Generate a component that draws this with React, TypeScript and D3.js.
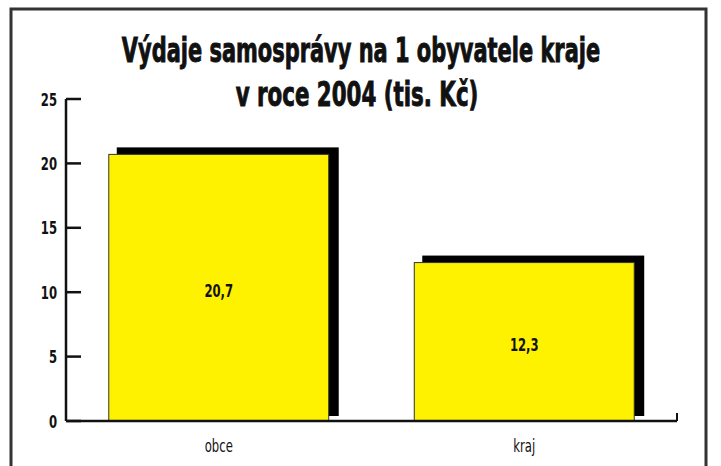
import { scaleBand, scaleLinear } from 'd3'

const WIDTH = 721
const HEIGHT = 466
const MARGIN = { top: 99, right: 44, bottom: 45, left: 66 }
const INNER_WIDTH = WIDTH - MARGIN.left - MARGIN.right
const INNER_HEIGHT = HEIGHT - MARGIN.top - MARGIN.bottom

const categories = ['obce', 'kraj']
const values = [20.7, 12.3]
const valueLabels = ['20,7', '12,3']
const titleLines = ['Výdaje samosprávy na 1 obyvatele kraje', 'v roce 2004 (tis. Kč)']

const FONT = '"DejaVu Sans Condensed", "DejaVu Sans", sans-serif'
const YELLOW = '#fff200'
const SQUEEZE = 0.72

// narrow text: the original uses a condensed face we don't have, so squeeze horizontally
function NarrowText({
  x,
  y,
  anchor = 'middle',
  size,
  bold = false,
  squeeze = SQUEEZE,
  heavy = 0,
  children,
}: {
  x: number
  y: number
  anchor?: 'start' | 'middle' | 'end'
  size: number
  bold?: boolean
  squeeze?: number
  heavy?: number
  children: string | number
}) {
  return (
    <text
      transform={`translate(${x}, ${y}) scale(${squeeze}, 1)`}
      textAnchor={anchor}
      fontSize={size}
      fontWeight={bold ? 'bold' : 'normal'}
      fill="#111"
      stroke={heavy ? '#111' : 'none'}
      strokeWidth={heavy}
    >
      {children}
    </text>
  )
}

export default function App() {
  const x = scaleBand<string>().domain(categories).range([0, INNER_WIDTH]).paddingInner(0.28).paddingOuter(0.14)
  const y = scaleLinear().domain([0, 25]).range([INNER_HEIGHT, 0])
  const ticks = y.ticks(5)

  return (
    <svg
      width={WIDTH}
      height={HEIGHT}
      viewBox={`0 0 ${WIDTH} ${HEIGHT}`}
      style={{ position: 'absolute', left: 0, top: 0, background: '#fff' }}
      fontFamily={FONT}
    >
      {/* outer frame, runs off the bottom */}
      <rect x={11} y={9} width={695} height={480} fill="none" stroke="#333" strokeWidth={3} />

      <NarrowText x={361} y={62} size={33} bold squeeze={0.705} heavy={0.9}>
        {titleLines[0]}
      </NarrowText>
      <NarrowText x={357} y={106} size={33} bold squeeze={0.72} heavy={0.9}>
        {titleLines[1]}
      </NarrowText>

      <g transform={`translate(${MARGIN.left}, ${MARGIN.top})`}>
        {categories.map((c, i) => {
          const bx = x(c) ?? 0
          const bw = x.bandwidth()
          const by = y(values[i])
          return (
            <g key={c}>
              <rect x={bx + 8} y={by - 7} width={bw + 2} height={y(0) - 5 - (by - 7)} fill="#000" />
              <rect x={bx} y={by} width={bw} height={y(0) - by} fill={YELLOW} stroke="#333" strokeWidth={1} />
              <NarrowText x={bx + bw / 2} y={(by + y(0)) / 2 + 9} size={18} bold>
                {valueLabels[i]}
              </NarrowText>
              <NarrowText x={bx + bw / 2} y={INNER_HEIGHT + 31} size={18}>
                {c}
              </NarrowText>
            </g>
          )
        })}

        {/* y axis */}
        <line x1={0} x2={0} y1={y(25)} y2={y(0)} stroke="#111" strokeWidth={2.5} />
        {ticks.map((t) => (
          <g key={t}>
            <line x1={0} x2={15} y1={y(t)} y2={y(t)} stroke="#111" strokeWidth={2.5} />
            <NarrowText x={-9} y={y(t) + 6.5} anchor="end" size={18} bold>
              {t}
            </NarrowText>
          </g>
        ))}

        {/* x axis */}
        <line x1={0} x2={INNER_WIDTH} y1={y(0)} y2={y(0)} stroke="#111" strokeWidth={2.5} />
        <line x1={INNER_WIDTH} x2={INNER_WIDTH} y1={y(0)} y2={y(0) - 8} stroke="#111" strokeWidth={2} />
      </g>
    </svg>
  )
}
